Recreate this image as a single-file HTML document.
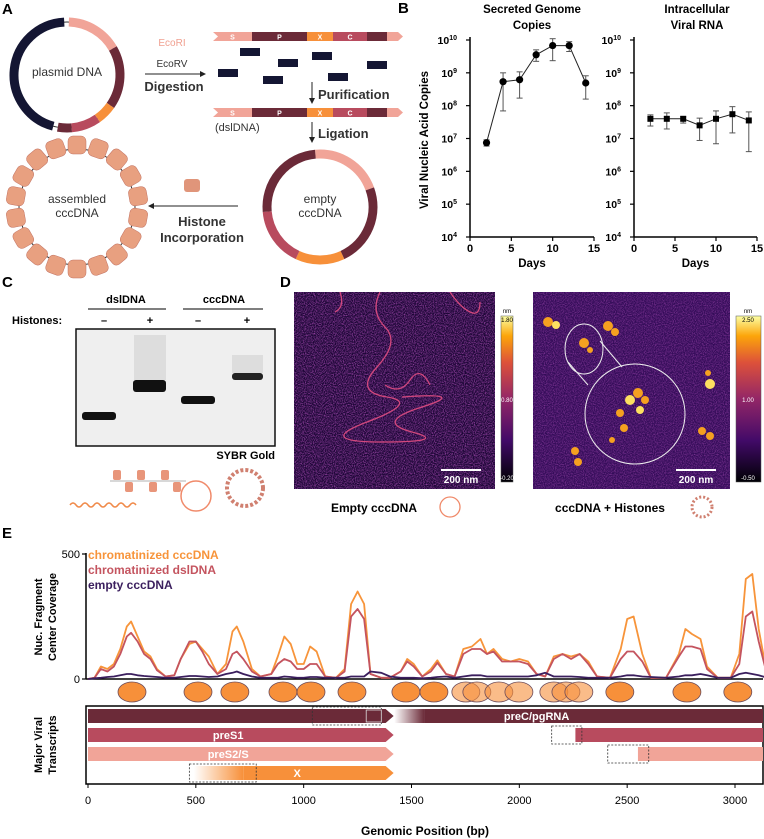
<!DOCTYPE html>
<html><head><meta charset="utf-8"><style>
body{margin:0;background:#fff;}
svg{display:block;font-family:"Liberation Sans",Arial,sans-serif;}
.b{font-weight:bold;}
</style></head><body>
<svg id="fig" width="764" height="839" viewBox="0 0 764 839" xmlns="http://www.w3.org/2000/svg">
<defs>
<linearGradient id="inferno" x1="0" y1="1" x2="0" y2="0">
<stop offset="0" stop-color="#000004"/><stop offset="0.25" stop-color="#420a68"/><stop offset="0.5" stop-color="#932667"/><stop offset="0.72" stop-color="#dd513a"/><stop offset="0.88" stop-color="#fca50a"/><stop offset="1" stop-color="#fcffa4"/></linearGradient>
<linearGradient id="fadeDark" x1="0" x2="1"><stop offset="0" stop-color="#fff"/><stop offset="1" stop-color="#6b2a38"/></linearGradient>
<linearGradient id="fadeOr" x1="0" x2="1"><stop offset="0" stop-color="#fff"/><stop offset="1" stop-color="#f7903a"/></linearGradient>
<filter id="noise"><feTurbulence type="fractalNoise" baseFrequency="0.9" numOctaves="2" seed="3"/><feColorMatrix type="matrix" values="0 0 0 0 0.55  0 0 0 0 0.1  0 0 0 0 0.6  0 0 0 1.6 -0.6"/></filter>
<clipPath id="c1"><rect x="294" y="292" width="201" height="197"/></clipPath>
<clipPath id="c2"><rect x="533" y="292" width="197" height="197"/></clipPath>
</defs>

<text class="b" x="2" y="14" font-size="15">A</text>
<text class="b" x="398" y="13" font-size="15">B</text>
<text class="b" x="2" y="287" font-size="15">C</text>
<text class="b" x="280" y="287" font-size="15">D</text>
<text class="b" x="2" y="538" font-size="15">E</text>

<g id="panelA">
<text x="67" y="76" font-size="12" text-anchor="middle" fill="#333">plasmid DNA</text>
<text x="172" y="46" font-size="10" text-anchor="middle" fill="#f0a090">EcoRI</text>
<text x="172" y="67" font-size="10" text-anchor="middle" fill="#333">EcoRV</text>
<line x1="145" y1="74" x2="200" y2="74" stroke="#222" stroke-width="1"/><path d="M200 71 L206 74 L200 77Z" fill="#222"/>
<text class="b" x="174" y="91" font-size="13" text-anchor="middle" fill="#333">Digestion</text>
<line x1="312" y1="82" x2="312" y2="99" stroke="#222"/><path d="M309 98 L312 104 L315 98Z" fill="#222"/>
<text class="b" x="318" y="99" font-size="13" fill="#333">Purification</text>
<line x1="312" y1="122" x2="312" y2="138" stroke="#222"/><path d="M309 137 L312 143 L315 137Z" fill="#222"/>
<text class="b" x="318" y="138" font-size="13" fill="#333">Ligation</text>
<text x="215" y="131" font-size="11" fill="#333">(dslDNA)</text>
<line x1="238" y1="206" x2="153" y2="206" stroke="#222"/><path d="M154 203 L148 206 L154 209Z" fill="#222"/>
<text class="b" x="202" y="226" font-size="13" text-anchor="middle" fill="#333">Histone</text>
<text class="b" x="202" y="242" font-size="13" text-anchor="middle" fill="#333">Incorporation</text>
<text x="320" y="203" font-size="12" text-anchor="middle" fill="#333">empty</text>
<text x="320" y="217" font-size="12" text-anchor="middle" fill="#333">cccDNA</text>
<text x="77" y="203" font-size="12" text-anchor="middle" fill="#333">assembled</text>
<text x="77" y="217" font-size="12" text-anchor="middle" fill="#333">cccDNA</text>
<rect x="184" y="179" width="16" height="13" rx="3" fill="#e0957a"/>
</g>

<g id="panelB">
<text class="b" x="532" y="13" font-size="11.5" text-anchor="middle">Secreted Genome</text>
<text class="b" x="532" y="29" font-size="11.5" text-anchor="middle">Copies</text>
<text class="b" x="697" y="13" font-size="11.5" text-anchor="middle">Intracellular</text>
<text class="b" x="697" y="29" font-size="11.5" text-anchor="middle">Viral RNA</text>
<text class="b" transform="translate(428,140) rotate(-90)" font-size="11.5" text-anchor="middle">Viral Nucleic Acid Copies</text>
</g>

<g id="panelC">
<text class="b" x="126" y="303" font-size="11" text-anchor="middle">dslDNA</text>
<line x1="88" y1="309" x2="166" y2="309" stroke="#555" stroke-width="1.5"/>
<text class="b" x="224" y="303" font-size="11" text-anchor="middle">cccDNA</text>
<line x1="183" y1="309" x2="263" y2="309" stroke="#555" stroke-width="1.5"/>
<text class="b" x="12" y="324" font-size="11">Histones:</text>
<text class="b" x="104" y="324" font-size="11" text-anchor="middle">–</text>
<text class="b" x="150" y="324" font-size="11" text-anchor="middle">+</text>
<text class="b" x="198" y="324" font-size="11" text-anchor="middle">–</text>
<text class="b" x="247" y="324" font-size="11" text-anchor="middle">+</text>
<rect x="76" y="329" width="199" height="117" fill="#efefef" stroke="#111" stroke-width="1.5"/>
<rect x="134" y="335" width="32" height="45" fill="#ccc" opacity="0.5"/>
<rect x="82" y="412" width="34" height="8" rx="3" fill="#111"/>
<rect x="133" y="380" width="33" height="12" rx="3" fill="#111"/>
<rect x="181" y="396" width="34" height="8" rx="3" fill="#111"/>
<rect x="232" y="355" width="31" height="18" fill="#ccc" opacity="0.5"/>
<rect x="232" y="373" width="31" height="7" rx="3" fill="#222"/>
<text class="b" x="275" y="459" font-size="11" text-anchor="end">SYBR Gold</text>
<path d="M70 505 q3 -4 6 0 t6 0 t6 0 t6 0 t6 0 t6 0 t6 0 t6 0 t6 0 t6 0 t6 0" fill="none" stroke="#f08a4a" stroke-width="1.5"/>
<g fill="#e8957a"><rect x="113" y="470" width="8" height="10" rx="2"/><rect x="125" y="482" width="8" height="10" rx="2"/><rect x="137" y="470" width="8" height="10" rx="2"/><rect x="149" y="482" width="8" height="10" rx="2"/><rect x="161" y="470" width="8" height="10" rx="2"/><rect x="173" y="482" width="8" height="10" rx="2"/></g>
<line x1="110" y1="481" x2="186" y2="481" stroke="#999" stroke-width="0.8"/>
<circle cx="196" cy="496" r="15" fill="none" stroke="#f08a6a" stroke-width="1.5"/>
<circle cx="245" cy="488" r="18" fill="none" stroke="#d08070" stroke-width="4" stroke-dasharray="3 2"/>
</g>

<g id="panelD">
<g clip-path="url(#c1)">
<rect x="294" y="292" width="201" height="197" fill="#1c0636"/>
<rect x="294" y="292" width="201" height="197" filter="url(#noise)"/>
<path d="M380 292 q-10 20 5 35 t-8 40 t10 30 t-20 25 t15 20 t30 -10 t10 -25 t-20 -10 M340 292 q5 15 -5 20 M450 292 q10 15 20 20 t10 -10" fill="none" stroke="#d2487d" stroke-width="1.3"/>
<path d="M385 385 q15 10 25 -5 t20 5" fill="none" stroke="#d2487d" stroke-width="1.2"/>
</g>
<rect x="441" y="469" width="40" height="2" fill="#fff"/>
<text class="b" x="461" y="483" font-size="10" fill="#fff" text-anchor="middle">200 nm</text>
<text x="507" y="313" font-size="6" text-anchor="middle">nm</text>
<rect x="501" y="316" width="12" height="166" fill="url(#inferno)" stroke="#555" stroke-width="0.5"/>
<text x="507" y="322" font-size="6" text-anchor="middle">1.80</text>
<text x="507" y="402" font-size="6" text-anchor="middle" fill="#fff">0.80</text>
<text x="507" y="480" font-size="6" text-anchor="middle" fill="#fff">-0.20</text>
<g clip-path="url(#c2)">
<rect x="533" y="292" width="197" height="197" fill="#330c58"/>
<rect x="533" y="292" width="197" height="197" filter="url(#noise)" opacity="0.7"/>
<g fill="#f5a020">
<circle cx="548" cy="322" r="5"/><circle cx="556" cy="325" r="4" fill="#fde060"/>
<circle cx="608" cy="326" r="5"/><circle cx="615" cy="332" r="4"/><circle cx="584" cy="343" r="5"/><circle cx="590" cy="350" r="3"/>
<circle cx="575" cy="451" r="4"/><circle cx="578" cy="462" r="4"/><circle cx="710" cy="384" r="5" fill="#fde060"/><circle cx="708" cy="373" r="3"/>
<circle cx="702" cy="431" r="4"/><circle cx="710" cy="436" r="4"/><circle cx="620" cy="413" r="4"/>
<circle cx="630" cy="400" r="5" fill="#fde060"/><circle cx="638" cy="393" r="5"/><circle cx="624" cy="428" r="4"/><circle cx="645" cy="400" r="4"/><circle cx="640" cy="410" r="4" fill="#fde060"/><circle cx="612" cy="440" r="3"/></g>
<ellipse cx="584" cy="349" rx="19" ry="25" fill="none" stroke="#eee" stroke-width="1"/>
<circle cx="635" cy="414" r="50" fill="none" stroke="#eee" stroke-width="1"/>
<line x1="568" y1="362" x2="588" y2="385" stroke="#eee"/><line x1="600" y1="341" x2="622" y2="367" stroke="#eee"/>
</g>
<rect x="676" y="469" width="40" height="2" fill="#fff"/>
<text class="b" x="696" y="483" font-size="10" fill="#fff" text-anchor="middle">200 nm</text>
<text x="748" y="313" font-size="6" text-anchor="middle">nm</text>
<rect x="736" y="316" width="25" height="166" fill="url(#inferno)" stroke="#555" stroke-width="0.5"/>
<text x="748" y="322" font-size="6" text-anchor="middle">2.50</text>
<text x="748" y="402" font-size="6" text-anchor="middle" fill="#fff">1.00</text>
<text x="748" y="480" font-size="6" text-anchor="middle" fill="#fff">-0.50</text>
<text class="b" x="374" y="512" font-size="12" text-anchor="middle">Empty cccDNA</text>
<circle cx="450" cy="507" r="10" fill="none" stroke="#f08a6a" stroke-width="1.3"/>
<text class="b" x="610" y="512" font-size="12" text-anchor="middle">cccDNA + Histones</text>
<circle cx="702" cy="507" r="10" fill="none" stroke="#d08070" stroke-width="3" stroke-dasharray="2 2"/>
</g>

<g id="panelE">
<text class="b" x="88" y="559" font-size="12" fill="#f7943a">chromatinized cccDNA</text>
<text class="b" x="88" y="574" font-size="12" fill="#c4545f">chromatinized dslDNA</text>
<text class="b" x="88" y="589" font-size="12" fill="#3b1f5e">empty cccDNA</text>
<text class="b" transform="translate(42,617) rotate(-90)" font-size="11" text-anchor="middle">Nuc. Fragment</text>
<text class="b" transform="translate(56,617) rotate(-90)" font-size="11" text-anchor="middle">Center Coverage</text>
<text class="b" transform="translate(42,745) rotate(-90)" font-size="11" text-anchor="middle">Major Viral</text>
<text class="b" transform="translate(56,745) rotate(-90)" font-size="11" text-anchor="middle">Transcripts</text>
<text class="b" x="425" y="835" font-size="12" text-anchor="middle">Genomic Position (bp)</text>
</g>
<g id="dyn"></g>
</svg>
<script>
const bDays = [2,4,6,8,10,12,14];
const secretedLog = [6.87,8.73,8.79,9.55,9.83,9.83,8.69];
const secretedHi = [6.96,9.0,9.03,9.7,10.04,9.95,8.91];
const secretedLo = [6.77,7.84,8.23,9.35,9.37,9.65,8.2];
const rnaLog = [7.6,7.6,7.6,7.4,7.6,7.74,7.55];
const rnaHi = [7.72,7.78,7.66,7.62,7.84,7.97,7.81];
const rnaLo = [7.38,7.29,7.47,6.94,6.84,7.17,6.6];
const bDecades = [4,5,6,7,8,9,10];
const bDayTicks = [0,5,10,15];
const eBp = [0,30,60,90,120,150,180,200,230,260,290,320,360,400,430,470,500,530,560,600,640,670,690,720,760,800,850,880,910,940,970,1000,1030,1060,1100,1150,1190,1220,1250,1280,1310,1360,1400,1450,1480,1510,1550,1590,1620,1660,1700,1740,1780,1820,1850,1880,1920,1960,2000,2040,2080,2120,2160,2200,2240,2280,2320,2360,2420,2470,2500,2530,2570,2610,2680,2740,2770,2800,2840,2870,2920,2980,3020,3050,3080,3110,3150,3200];
const covChromCcc = [0,5,50,40,60,120,210,230,170,110,90,40,10,15,80,140,150,120,90,20,60,190,210,150,40,10,20,90,170,140,60,60,130,110,10,5,40,300,350,300,20,5,5,30,80,60,10,40,75,20,10,120,130,160,100,120,80,70,80,70,20,10,90,100,90,100,70,10,5,120,240,250,100,5,5,100,200,180,160,50,5,5,100,400,420,200,10,0];
const covChromDsl = [0,5,40,30,50,100,170,185,150,100,80,35,10,15,80,150,150,110,60,20,40,100,110,80,30,10,20,60,80,70,40,40,60,60,10,5,30,250,280,240,20,5,5,30,70,50,10,30,65,20,10,100,120,120,100,110,70,70,70,60,20,10,80,100,80,100,60,10,5,80,110,110,70,5,5,90,130,130,120,40,5,5,60,250,270,150,10,0];
const covEmpty = [0,3,5,8,10,15,20,20,15,12,10,8,5,5,8,12,12,10,8,10,20,25,30,20,10,5,5,5,10,8,5,5,8,8,5,5,5,10,10,10,30,25,10,5,5,5,3,5,8,10,5,10,15,15,10,10,10,10,10,10,15,25,10,10,10,8,5,5,5,10,15,15,10,8,5,10,15,15,20,15,5,5,20,25,20,15,5,0];
const eTicks = [0,500,1000,1500,2000,2500,3000];
const nucBp = [204,510,681,904,1034,1224,1474,1604,1752,1803,1905,1998,2160,2216,2276,2466,2777,3013];
const nucFaint = [0,0,0,0,0,0,0,0,1,1,1,1,1,1,1,0,0,0];
const covTicks = [0,500];

const NS="http://www.w3.org/2000/svg";
const root=document.getElementById('dyn');
function mk(tag,attrs,parent){const e=document.createElementNS(NS,tag);for(const k in attrs)e.setAttribute(k,attrs[k]);(parent||root).appendChild(e);return e;}
function txt(s,attrs,parent){const e=mk('text',attrs,parent);e.textContent=s;return e;}

function arc(cx,cy,r,a0,a1,color,w,name){
  const p=a=>[cx+r*Math.sin(a*Math.PI/180),cy-r*Math.cos(a*Math.PI/180)];
  const [x0,y0]=p(a0),[x1,y1]=p(a1);
  const e=mk('path',{d:`M${x0} ${y0} A${r} ${r} 0 ${a1-a0>180?1:0} 1 ${x1} ${y1}`,fill:'none',stroke:color,'stroke-width':w});
  
  
}
mk('circle',{cx:67,cy:75,r:53,fill:'none',stroke:'#333','stroke-width':1});
arc(67,75,53,195,357,'#141633',9,'plasmid-backbone');
arc(67,75,53,2,60,'#f1a498',9,'plasmid-s');
arc(67,75,53,60,125,'#6b2a38',9,'plasmid-p');
arc(67,75,53,125,145,'#f7903a',9,'plasmid-x');
arc(67,75,53,145,175,'#b84b5e',9,'plasmid-c');
arc(67,75,53,175,190,'#6b2a38',9,'plasmid-end');
arc(320,207,53,-5,70,'#f1a498',9,'empty-s');
arc(320,207,53,70,155,'#6b2a38',9,'empty-p');
arc(320,207,53,155,205,'#f7903a',9,'empty-x');
arc(320,207,53,205,265,'#b84b5e',9,'empty-c');
arc(320,207,53,265,355,'#6b2a38',9,'empty-end');
mk('circle',{cx:77,cy:207,r:58,fill:'none',stroke:'#333','stroke-width':1});
for(let i=0;i<18;i++){const a=i*20*Math.PI/180;const x=77+62*Math.sin(a),y=207-62*Math.cos(a);
 const n=mk('rect',{x:x-9,y:y-9,width:18,height:18,rx:5,fill:'#e8a080',stroke:'#c07060','stroke-width':0.5,transform:`rotate(${i*20} ${x} ${y})`});
 
 }
function strip(y,name){
 const segs=[[213,252,'#f1a498','S'],[252,307,'#6b2a38','P'],[307,333,'#f7903a','X'],[333,367,'#b84b5e','C'],[367,387,'#6b2a38',''],[387,398,'#f1a498','']];
 segs.forEach(s=>{const r=mk('rect',{x:s[0],y:y,width:s[1]-s[0],height:9,fill:s[2]});
  if(s[3])txt(s[3],{x:(s[0]+s[1])/2,y:y+7.5,'font-size':7,'font-weight':'bold',fill:'#fff','text-anchor':'middle'});});
 mk('path',{d:`M213 ${y} L218 ${y+4.5} L213 ${y+9}Z`,fill:'#fff'});
 mk('path',{d:`M398 ${y} L403 ${y+4.5} L398 ${y+9}Z`,fill:'#f1a498'});
}
strip(32,'digested-strip');strip(108,'dsldna-strip');
[[250,52],[288,63],[322,56],[228,73],[273,80],[338,77],[377,65]].forEach(b=>{const r=mk('rect',{x:b[0]-10,y:b[1]-4,width:20,height:8,fill:'#141633'});});

function logPlot(x0,xEnd,yTop,yBot,vals,hi,lo,marker,name){
 const X=d=>x0+(xEnd-x0)*d/15, Y=v=>yBot-(yBot-yTop)*(v-4)/6;
 const g=mk('g',{});
 mk('line',{x1:x0,y1:yTop-3,x2:x0,y2:yBot,stroke:'#000','stroke-width':1.5},g);
 mk('line',{x1:x0,y1:yBot,x2:xEnd,y2:yBot,stroke:'#000','stroke-width':1.5},g);
 bDecades.forEach(d=>{mk('line',{x1:x0-4,y1:Y(d),x2:x0,y2:Y(d),stroke:'#000','stroke-width':1.2},g);
  const t=txt('10',{x:x0-13,y:Y(d)+4,'font-size':10.5,'font-weight':'bold','text-anchor':'end'},g);
  const s=document.createElementNS(NS,'tspan');s.setAttribute('dy','-4');s.setAttribute('font-size','7');s.textContent=d;t.appendChild(s);});
 bDayTicks.forEach(d=>{mk('line',{x1:X(d),y1:yBot,x2:X(d),y2:yBot+4,stroke:'#000','stroke-width':1.2},g);
  txt(String(d),{x:X(d),y:yBot+15,'font-size':11,'font-weight':'bold','text-anchor':'middle'},g);});
 txt('Days',{x:(x0+xEnd)/2,y:yBot+30,'font-size':11.5,'font-weight':'bold','text-anchor':'middle'},g);
 mk('polyline',{points:bDays.map((d,i)=>X(d)+','+Y(vals[i])).join(' '),fill:'none',stroke:'#222','stroke-width':1},g);
 bDays.forEach((d,i)=>{
  mk('line',{x1:X(d),y1:Y(hi[i]),x2:X(d),y2:Y(lo[i]),stroke:'#555','stroke-width':1},g);
  mk('line',{x1:X(d)-3,y1:Y(hi[i]),x2:X(d)+3,y2:Y(hi[i]),stroke:'#555','stroke-width':1},g);
  mk('line',{x1:X(d)-3,y1:Y(lo[i]),x2:X(d)+3,y2:Y(lo[i]),stroke:'#555','stroke-width':1},g);
  let m;
  if(marker==='c') m=mk('circle',{cx:X(d),cy:Y(vals[i]),r:3.6,fill:'#000'},g);
  else m=mk('rect',{x:X(d)-3,y:Y(vals[i])-3,width:6,height:6,fill:'#000'},g);
  
  
 });
}
logPlot(470,594,40,237,secretedLog,secretedHi,secretedLo,'c','secreted-genome-chart');
logPlot(634,757,40,237,rnaLog,rnaHi,rnaLo,'s','intracellular-rna-chart');

const ex0=88, ex3000=735;
const EX=bp=>ex0+(ex3000-ex0)*bp/3000;
const EY=v=>679-(679-554)*v/500;
const ge=mk('g',{});
mk('line',{x1:86,y1:553,x2:86,y2:679,stroke:'#000','stroke-width':1.5},ge);
mk('line',{x1:86,y1:679,x2:763,y2:679,stroke:'#000','stroke-width':1.5},ge);
covTicks.forEach(v=>{mk('line',{x1:82,y1:EY(v),x2:86,y2:EY(v),stroke:'#000','stroke-width':1.2},ge);
 txt(String(v),{x:80,y:EY(v)+4,'font-size':11,'text-anchor':'end'},ge);});
[[covChromCcc,'#f7943a','line-chromatinized-cccdna'],[covChromDsl,'#c4545f','line-chromatinized-dsldna'],[covEmpty,'#3b1f5e','line-empty-cccdna']].forEach(s=>{
 const p=mk('polyline',{points:eBp.map((b,i)=>EX(b).toFixed(1)+','+EY(s[0][i]).toFixed(1)).join(' '),fill:'none',stroke:s[1],'stroke-width':1.8,'stroke-linejoin':'round'},ge);
 
 
});
nucBp.forEach((b,i)=>{const e=mk('ellipse',{cx:EX(b),cy:692,rx:14,ry:10,fill:'#f7903a',stroke:'#6a4a5a','stroke-width':0.8,'fill-opacity':nucFaint[i]?0.6:1});
 
 });
const gt=mk('g',{});
mk('rect',{x:86,y:706,width:677,height:78,fill:'none',stroke:'#000','stroke-width':1.5},gt);
function bar(b0,b1,y,col,arrow){
 const x0=Math.max(EX(b0),86),x1=EX(b1);
 if(arrow) mk('path',{d:`M${x0} ${y} L${x1} ${y} L${x1+8} ${y+7} L${x1} ${y+14} L${x0} ${y+14}Z`,fill:col},gt);
 else mk('rect',{x:x0,y:y,width:Math.min(x1,763)-x0,height:14,fill:col},gt);
}
bar(0,1380,709,'#6b2a38',true); mk('rect',{x:EX(1420),y:709,width:EX(1560)-EX(1420),height:14,fill:'url(#fadeDark)'},gt); bar(1560,3250,709,'#6b2a38',false);
bar(0,1380,728,'#b84b5e',true); bar(2260,3250,728,'#b84b5e',false);
bar(0,1380,747,'#f1a498',true); bar(2550,3250,747,'#f1a498',false);
mk('rect',{x:EX(490),y:766,width:EX(720)-EX(490),height:14,fill:'url(#fadeOr)'},gt); bar(720,1380,766,'#f7903a',true);
[[1040,1360,707,18],[2150,2290,726,18],[2410,2600,745,18],[470,780,764,18]].forEach(d=>mk('rect',{x:EX(d[0]),y:d[2],width:EX(d[1])-EX(d[0]),height:d[3],fill:'none',stroke:'#333','stroke-width':0.8,'stroke-dasharray':'2 1.5'},gt));
mk('rect',{x:EX(1290),y:710,width:EX(1360)-EX(1290),height:12,fill:'none',stroke:'#ddd','stroke-width':0.8},gt);
txt('preC/pgRNA',{x:EX(2080),y:720,'font-size':11,'font-weight':'bold',fill:'#fff','text-anchor':'middle'},gt);
txt('preS1',{x:EX(650),y:739,'font-size':11,'font-weight':'bold',fill:'#fff','text-anchor':'middle'},gt);
txt('preS2/S',{x:EX(650),y:758,'font-size':11,'font-weight':'bold',fill:'#fff','text-anchor':'middle'},gt);
txt('X',{x:EX(970),y:777,'font-size':11,'font-weight':'bold',fill:'#fff','text-anchor':'middle'},gt);
eTicks.forEach(b=>{mk('line',{x1:EX(b),y1:784,x2:EX(b),y2:788,stroke:'#000'},gt);
 txt(String(b),{x:EX(b),y:804,'font-size':11,'text-anchor':'middle'},gt);});
</script>
</body></html>
